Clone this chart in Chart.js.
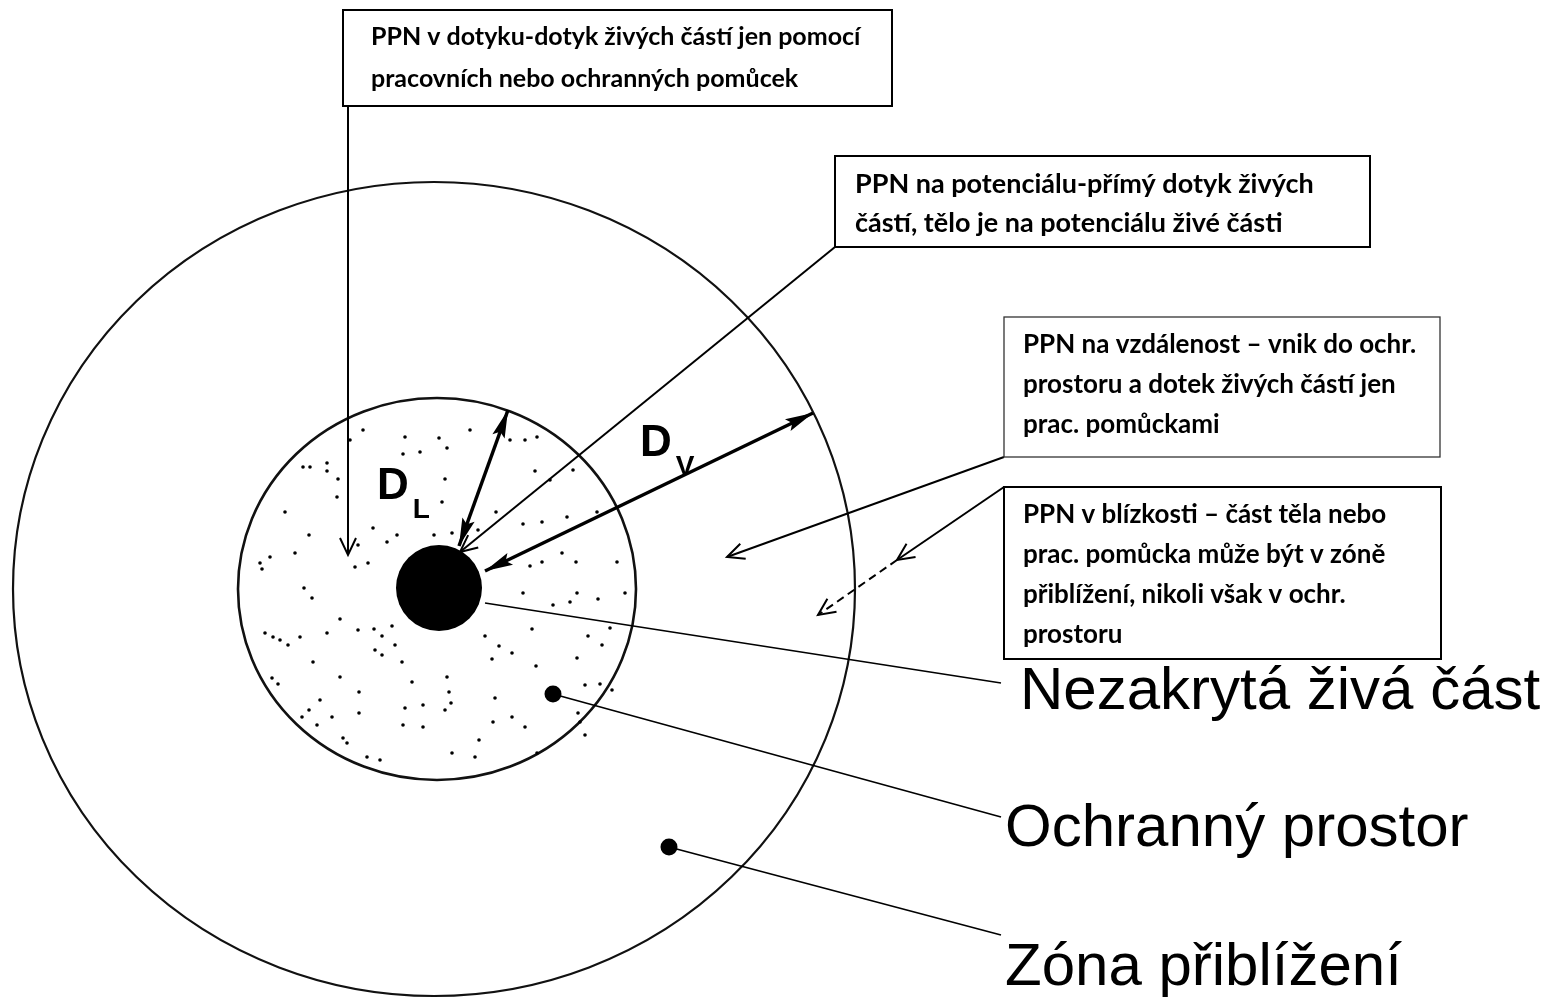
<!DOCTYPE html>
<html>
<head>
<meta charset="utf-8">
<script src="https://cdn.jsdelivr.net/npm/chart.js@4"></script>
<style>
  html, body { margin: 0; padding: 0; background: #fff; }
  #wrap { width: 1562px; height: 1008px; }
</style>
</head>
<body>
<div id="wrap"><canvas id="diagram" width="1562" height="1008"></canvas></div>
<script>
/*** data - diagram units (1 unit ~ 1 px of the sheet) ***/
// zones, from the core outwards
const zoneNames = ['Nezakrytá živá část', 'Ochranný prostor', 'Zóna přiblížení'];
const zoneCx = [439, 437, 434];
const zoneCy = [588, 589, 589];
const zoneRx = [43, 199, 421];
const zoneRy = [43, 191, 407];

// leader from every zone to its name
const leaderFromX = [485, 553, 669];
const leaderFromY = [603, 694, 847];
const leaderToX = [1001, 1001, 1001];
const leaderToY = [683, 817, 935];
const labelX = [1020, 1005, 1005];
const labelY = [709, 846, 985];

// callout boxes (PPN = práce pod napětím)
const calloutLines = [
  ['PPN v dotyku-dotyk živých částí jen pomocí', 'pracovních nebo ochranných pomůcek'],
  ['PPN na potenciálu-přímý dotyk živých', 'částí, tělo je na potenciálu živé části'],
  ['PPN na vzdálenost – vnik do ochr.', 'prostoru a dotek živých částí jen', 'prac. pomůckami'],
  ['PPN v blízkosti – část těla nebo', 'prac. pomůcka může být v zóně', 'přiblížení, nikoli však v ochr.', 'prostoru'],
];
const boxLeft = [343, 835, 1004, 1004];
const boxTop = [10, 156, 317, 487];
const boxRight = [892, 1370, 1440, 1441];
const boxBottom = [106, 247, 457, 659];
const textX = [371, 855, 1023, 1023];
const textY = [37, 184, 345, 515];
const lineGap = [42, 39, 40, 40];

// pointers from the boxes into the zones
const pointerFromX = [348, 835, 1004, 1004];
const pointerFromY = [106, 247, 457, 487];
const pointerToX = [348, 460, 727, 897];
const pointerToY = [555, 552, 557, 560];
// dashed continuation of the last pointer
const dashFromX = [897];
const dashFromY = [560];
const dashToX = [818];
const dashToY = [615];

// distances D_L and D_V
const dimNames = ['D', 'D'];
const dimSubs = ['L', 'V'];
const dimFromX = [459, 485];
const dimFromY = [546, 571];
const dimToX = [508, 813];
const dimToY = [410, 413];
const dimLabelX = [377, 640];
const dimLabelY = [499, 456];

// stipple of the protective space
const dotX = [363, 405, 439, 470, 420, 403, 447, 350, 303, 310, 327, 327, 338, 337, 285, 309, 445, 442, 373, 397,
  387, 434, 452, 478, 496, 523, 542, 567, 597, 535, 510, 525, 537, 550, 573, 270, 260, 262, 295, 358,
  368, 355, 304, 312, 340, 358, 374, 382, 392, 395, 375, 382, 402, 327, 300, 288, 280, 273, 265, 313,
  340, 272, 278, 359, 412, 447, 449, 451, 423, 405, 445, 495, 532, 485, 499, 512, 492, 536, 577, 602,
  588, 610, 523, 553, 570, 577, 598, 625, 562, 542, 530, 576, 617, 585, 600, 578, 580, 512, 493, 525,
  479, 309, 302, 317, 332, 359, 403, 423, 343, 347, 367, 452, 475, 537, 320, 585, 612, 380];
const dotY = [430, 437, 438, 430, 452, 454, 448, 440, 467, 467, 463, 471, 479, 497, 512, 535, 479, 502, 528, 535,
  542, 535, 533, 530, 512, 524, 522, 517, 512, 471, 440, 440, 437, 480, 470, 557, 563, 569, 553, 545,
  563, 567, 588, 598, 619, 630, 629, 636, 626, 645, 650, 655, 662, 633, 637, 645, 640, 637, 633, 662,
  677, 678, 684, 692, 682, 677, 692, 703, 705, 708, 710, 698, 629, 636, 646, 653, 659, 666, 658, 645,
  636, 628, 593, 605, 602, 593, 599, 593, 553, 562, 566, 562, 562, 685, 684, 713, 722, 717, 722, 727,
  740, 710, 717, 725, 717, 713, 725, 727, 738, 743, 757, 753, 757, 753, 700, 735, 690, 760];

/*** styles ***/
const boxFontPx = [25, 27, 26, 26];

/*** plugins ***/
function px(chart, v) { return chart.scales.x.getPixelForValue(v); }
function py(chart, v) { return chart.scales.y.getPixelForValue(v); }

const zonesPlugin = {
  id: 'zones',
  beforeDatasetsDraw(chart) {
    const ctx = chart.ctx;
    ctx.save();
    for (let i = zoneNames.length - 1; i >= 0; i--) {
      const cx = px(chart, zoneCx[i]);
      const cy = py(chart, zoneCy[i]);
      const rx = Math.abs(px(chart, zoneCx[i] + zoneRx[i]) - cx);
      const ry = Math.abs(py(chart, zoneCy[i] + zoneRy[i]) - cy);
      ctx.beginPath();
      ctx.ellipse(cx, cy, rx, ry, 0, 0, Math.PI * 2);
      if (i === 0) {
        ctx.fillStyle = '#000';
        ctx.fill();
      } else {
        ctx.lineWidth = i === 1 ? 2.6 : 2.2;
        ctx.strokeStyle = '#111';
        ctx.stroke();
      }
    }
    ctx.restore();
  },
};

function drawHead(ctx, x, y, fromX, fromY, kind) {
  const ang = Math.atan2(y - fromY, x - fromX);
  ctx.save();
  ctx.translate(x, y);
  ctx.rotate(ang);
  ctx.beginPath();
  if (kind === 'filled') {
    ctx.moveTo(0, 0);
    ctx.lineTo(-28, -6.5);
    ctx.lineTo(-23, 0);
    ctx.lineTo(-28, 6.5);
    ctx.closePath();
    ctx.fillStyle = '#000';
    ctx.fill();
  } else {
    ctx.moveTo(-17, -8);
    ctx.lineTo(0, 0);
    ctx.lineTo(-17, 8);
    ctx.lineWidth = 2;
    ctx.strokeStyle = '#000';
    ctx.stroke();
  }
  ctx.restore();
}

const arrowPlugin = {
  id: 'arrows',
  afterDatasetsDraw(chart) {
    const ctx = chart.ctx;
    chart.data.datasets.forEach((ds, i) => {
      if (!ds.arrow) return;
      const pts = chart.getDatasetMeta(i).data;
      const a = pts[0], b = pts[pts.length - 1];
      drawHead(ctx, b.x, b.y, a.x, a.y, ds.arrow);
      if (ds.bothEnds) drawHead(ctx, a.x, a.y, b.x, b.y, ds.arrow);
    });
  },
};

const textPlugin = {
  id: 'texts',
  afterDatasetsDraw(chart) {
    const ctx = chart.ctx;
    ctx.save();
    // callout boxes
    calloutLines.forEach((lines, i) => {
      const x0 = px(chart, boxLeft[i]), y0 = py(chart, boxTop[i]);
      const x1 = px(chart, boxRight[i]), y1 = py(chart, boxBottom[i]);
      ctx.fillStyle = '#fff';
      ctx.fillRect(x0, y0, x1 - x0, y1 - y0);
      ctx.lineWidth = i === 2 ? 1.3 : 2;
      ctx.strokeStyle = i === 2 ? '#333' : '#000';
      ctx.strokeRect(x0, y0, x1 - x0, y1 - y0);
      ctx.fillStyle = '#000';
      ctx.font = 'bold ' + boxFontPx[i] + 'px Lato, "Open Sans", sans-serif';
      ctx.textBaseline = 'middle';
      ctx.textAlign = 'left';
      lines.forEach((t, k) => {
        ctx.fillText(t, px(chart, textX[i]), py(chart, textY[i] + k * lineGap[i]));
      });
    });
    // zone names
    ctx.font = '60px "Liberation Sans", Arial, sans-serif';
    ctx.textBaseline = 'alphabetic';
    zoneNames.forEach((t, i) => {
      ctx.fillText(t, px(chart, labelX[i]), py(chart, labelY[i]));
    });
    // D_L, D_V
    dimNames.forEach((t, i) => {
      const x = px(chart, dimLabelX[i]), y = py(chart, dimLabelY[i]);
      ctx.font = 'bold 44px "Liberation Sans", Arial, sans-serif';
      ctx.fillText(t, x, y);
      const w = ctx.measureText(t).width;
      ctx.font = 'bold 28px "Liberation Sans", Arial, sans-serif';
      ctx.fillText(dimSubs[i], x + w + 4, y + 19);
    });
    ctx.restore();
  },
};

/*** datasets ***/
function segment(x0, y0, x1, y1, extra) {
  return Object.assign({
    data: [{ x: x0, y: y0 }, { x: x1, y: y1 }],
    showLine: true,
    borderColor: '#000',
    borderWidth: 1.6,
    pointRadius: 0,
    fill: false,
  }, extra || {});
}

const datasets = [];
datasets.push({
  label: 'stipple',
  data: dotX.map((x, i) => ({ x: x, y: dotY[i] })),
  pointRadius: 1.8,
  pointBackgroundColor: '#000',
  pointBorderWidth: 0,
});
leaderFromX.forEach((x, i) => {
  datasets.push(segment(x, leaderFromY[i], leaderToX[i], leaderToY[i], { borderWidth: 1.7 }));
});
datasets.push({
  label: 'markers',
  data: [1, 2].map((i) => ({ x: leaderFromX[i], y: leaderFromY[i] })),
  pointRadius: 8.5,
  pointBackgroundColor: '#000',
  pointBorderWidth: 0,
});
pointerFromX.forEach((x, i) => {
  datasets.push(segment(x, pointerFromY[i], pointerToX[i], pointerToY[i], { borderWidth: 2, arrow: 'open' }));
});
dashFromX.forEach((x, i) => {
  datasets.push(segment(x, dashFromY[i], dashToX[i], dashToY[i], { borderWidth: 2, borderDash: [8, 5], arrow: 'open' }));
});
dimFromX.forEach((x, i) => {
  datasets.push(segment(x, dimFromY[i], dimToX[i], dimToY[i], { borderWidth: 3.5, arrow: 'filled', bothEnds: true }));
});

new Chart(document.getElementById('diagram'), {
  type: 'scatter',
  data: { datasets: datasets },
  options: {
    responsive: false,
    animation: false,
    layout: { padding: 0, autoPadding: false },
    plugins: {
      legend: { display: false },
      tooltip: { enabled: false },
    },
    scales: {
      x: { type: 'linear', min: 0, max: 1562, display: false },
      y: { type: 'linear', min: 0, max: 1008, reverse: true, display: false },
    },
  },
  plugins: [zonesPlugin, arrowPlugin, textPlugin],
});
</script>
</body>
</html>
